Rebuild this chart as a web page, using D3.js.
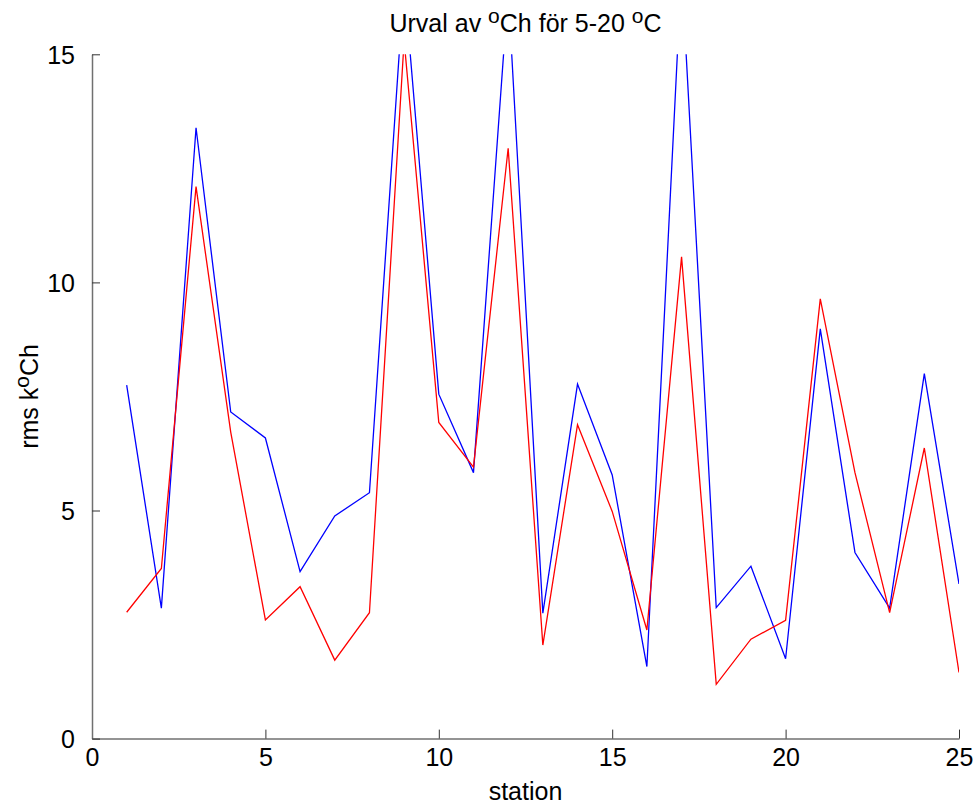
<!DOCTYPE html>
<html><head><meta charset="utf-8">
<script src="https://cdn.jsdelivr.net/npm/d3@7"></script>
<style>
html,body{margin:0;padding:0;background:#fff;}
svg{display:block;font-family:"Liberation Sans",Arial,Helvetica,sans-serif;}
</style></head>
<body><svg id="chart" width="978" height="809"></svg>
<script>
const stations = d3.range(1, 26);
const blueValues = [7.75,2.86,13.39,7.16,6.59,3.66,4.88,5.39,16.6,7.55,5.83,16.4,2.75,7.77,5.78,1.58,16.85,2.87,3.78,1.75,8.98,4.08,2.86,8.0,3.39];
const redValues  = [2.77,3.73,12.1,6.72,2.60,3.33,1.72,2.76,15.3,6.93,5.95,12.94,2.05,6.88,4.98,2.38,10.56,1.19,2.18,2.59,9.64,5.83,2.76,6.37,1.45];
const xTicks = [0,5,10,15,20,25];
const yTicks = [0,5,10,15];

(function(){
const svg = d3.select("#chart");
const pL = 92, pR = 959, pT = 54.3, pB = 738.6;
const x = d3.scaleLinear().domain([0,25]).range([pL,pR]);
const y = d3.scaleLinear().domain([0,15]).range([pB,pT]);

svg.append("defs").append("clipPath").attr("id","clip")
  .append("rect").attr("x",pL).attr("y",pT).attr("width",pR-pL).attr("height",pB-pT);

const fs = 25;
const gx = svg.append("g").attr("transform",`translate(0,${pB})`)
  .call(d3.axisBottom(x).tickValues(xTicks).tickSize(-9).tickPadding(20).tickSizeOuter(0));
const gy = svg.append("g").attr("transform",`translate(${pL},0)`)
  .call(d3.axisLeft(y).tickValues(yTicks).tickSize(-8).tickPadding(17).tickSizeOuter(0));
[gx,gy].forEach(g=>{
  g.select(".domain").attr("stroke","#707070").attr("stroke-width",1.5);
  g.selectAll(".tick line").attr("stroke","#333").attr("stroke-width",1);
  g.selectAll(".tick text").attr("fill","#000").style("font-size",fs+"px")
    .style("font-family",'"Liberation Sans",Arial,sans-serif');
});
gx.selectAll(".tick text").attr("dy","0.71em").attr("y",10);
gy.selectAll(".tick text").attr("dy","0.35em");

const line = d3.line().x((d,i)=>x(stations[i])).y(d=>y(d));
const plot = svg.append("g").attr("clip-path","url(#clip)");
plot.append("path").datum(blueValues).attr("d",line).attr("fill","none").attr("stroke","#0000ff").attr("stroke-width",1.3);
plot.append("path").datum(redValues).attr("d",line).attr("fill","none").attr("stroke","#ff0000").attr("stroke-width",1.3);

const title = svg.append("text").attr("x",(pL+pR)/2).attr("y",32).attr("text-anchor","middle")
  .style("font-size",fs+"px").attr("fill","#000");
title.append("tspan").text("Urval av ");
title.append("tspan").text("o").style("font-size","21px").attr("dy",-9);
title.append("tspan").text("Ch för 5-20 ").attr("dy",9);
title.append("tspan").text("o").style("font-size","21px").attr("dy",-9);
title.append("tspan").text("C").attr("dy",9);

svg.append("text").attr("x",(pL+pR)/2).attr("y",800).attr("text-anchor","middle")
  .style("font-size",fs+"px").attr("fill","#000").text("station");

const yl = svg.append("text").attr("transform",`translate(38,${(pT+pB)/2}) rotate(-90)`)
  .attr("text-anchor","middle").style("font-size",fs+"px").attr("fill","#000");
yl.append("tspan").text("rms k");
yl.append("tspan").text("o").style("font-size","21px").attr("dy",-9);
yl.append("tspan").text("Ch").attr("dy",9);
})();
</script></body></html>
